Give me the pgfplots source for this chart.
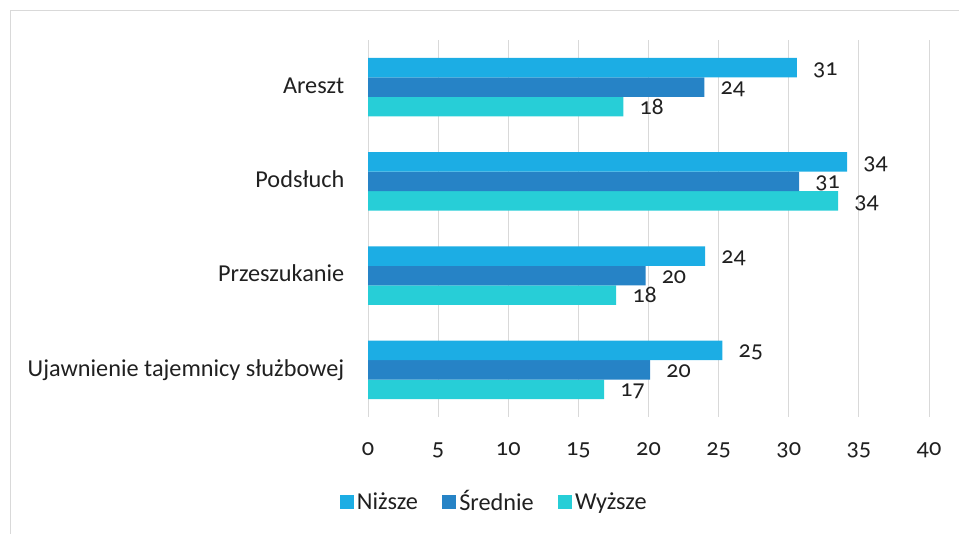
\documentclass[border=0pt]{standalone}
\usepackage{fontspec}
\setmainfont{Carlito}[Numbers=OldStyle]
\usepackage{pgfplots}
\pgfplotsset{compat=1.18}
\definecolor{cA}{HTML}{1CADE4}
\definecolor{cB}{HTML}{2683C6}
\definecolor{cC}{HTML}{27CED7}
\definecolor{gridc}{HTML}{D9D9D9}
\definecolor{txt}{HTML}{202020}
\begin{document}
\begin{tikzpicture}
\path[use as bounding box] (0,0) rectangle (719.25pt,400.5pt);
\draw[gridc, line width=0.9pt] (8pt,-2pt) -- (8pt,392.5pt) -- (722pt,392.5pt);
\begin{axis}[
  at={(276pt,87.75pt)}, anchor=south west,
  scale only axis, width=420.75pt, height=282.75pt,
  xbar=0pt, bar width=14.6pt,
  xmin=0, xmax=40, ymin=-0.5, ymax=3.5,
  y dir=reverse,
  xtick={0,5,...,40},
  ytick={0,1,2,3},
  yticklabels={Areszt, Podsłuch, Przeszukanie, Ujawnienie tajemnicy służbowej},
  xmajorgrids, grid style={gridc, line width=0.75pt},
  axis line style={draw=none},
  major tick length=0pt,
  tick style={draw=none},
  /pgf/number format/assume math mode=true,
  font=\fontsize{18.2}{21}\selectfont,
  every tick label/.append style={text=txt},
  xticklabel style={anchor=base, inner sep=0pt, yshift=-28.5pt},
  yticklabel style={anchor=base east, inner sep=0pt, xshift=-17.6pt, yshift=-4.7pt},
  point meta=x,
  nodes near coords={\pgfmathprintnumber[fixed,precision=0]{\pgfplotspointmeta}},
  nodes near coords style={anchor=base west, inner sep=0pt, xshift=12pt, yshift=-5.6pt, text=txt, font=\fontsize{18}{21}\selectfont},
  legend columns=3,
  reverse legend,
  legend style={at={(0.226,-0.225)}, anchor=center, draw=none, fill=none, inner sep=0pt,
    font=\fontsize{18.2}{21}\selectfont, text=txt,
    nodes={inner sep=2.5pt},
    /tikz/every even column/.append style={column sep=15.5pt}},
  legend image code/.code={\fill[#1] (0pt,-5.25pt) rectangle (10.5pt,5.25pt);},
]
\addplot[fill=cC, draw=none] coordinates {(18.2,0) (33.52,1) (17.7,2) (16.84,3)};
\addplot[fill=cB, draw=none] coordinates {(23.99,0) (30.74,1) (19.79,2) (20.12,3)};
\addplot[fill=cA, draw=none] coordinates {(30.58,0) (34.16,1) (24.04,2) (25.27,3)};
\legend{Wyższe, Średnie, Niższe}
\end{axis}
\end{tikzpicture}
\end{document}
